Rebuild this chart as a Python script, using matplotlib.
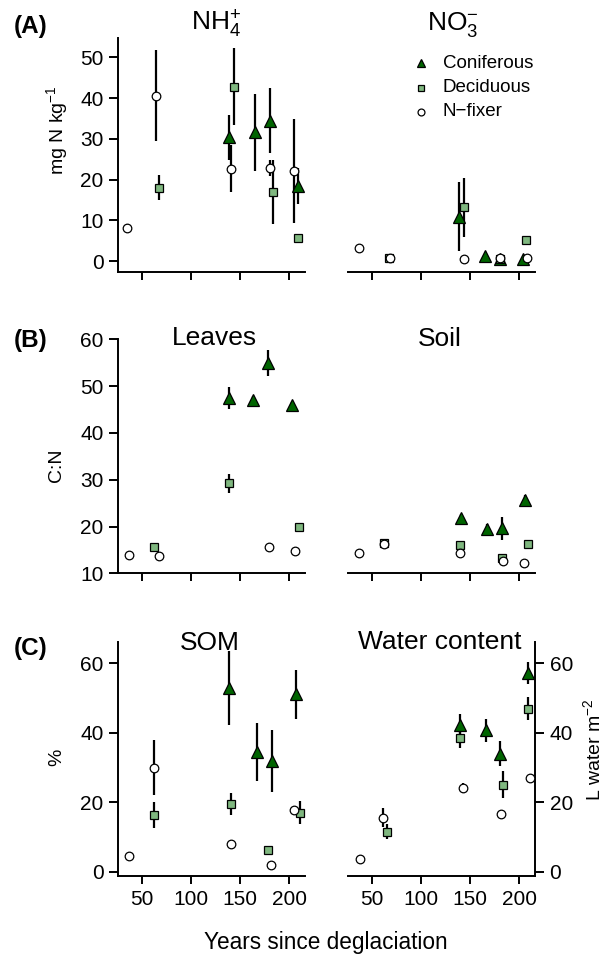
import matplotlib
matplotlib.use("Agg")
import matplotlib.pyplot as plt

plt.rcParams['font.family'] = ['Liberation Sans', 'DejaVu Sans']
plt.rcParams['mathtext.fontset'] = 'custom'
plt.rcParams['mathtext.rm'] = 'Liberation Sans'
plt.rcParams['mathtext.it'] = 'Liberation Sans'

groups = ["Coniferous", "Deciduous", "N\u2212fixer"]

# ---- Panel A: NH4+ (mg N kg-1)
nh4_x = {"Coniferous": [139, 165, 180, 209], "Deciduous": [67, 144, 183, 209], "N\u2212fixer": [35, 64.5, 141, 180, 205]}
nh4_y = {"Coniferous": [30.4, 31.6, 34.5, 18.4], "Deciduous": [18.0, 42.8, 16.9, 5.6], "N\u2212fixer": [8.2, 40.6, 22.7, 22.9, 22.1]}
nh4_e = {"Coniferous": [5.5, 9.5, 8.0, 4.4], "Deciduous": [3.1, 9.4, 7.9, 0.5], "N\u2212fixer": [1.0, 11.2, 5.7, 2.0, 12.8]}

# ---- Panel A: NO3-
no3_x = {"Coniferous": [139, 165.5, 180.5, 204], "Deciduous": [67, 143.5, 180, 207], "N\u2212fixer": [37, 68, 143.5, 180, 208]}
no3_y = {"Coniferous": [10.9, 1.2, 0.4, 0.4], "Deciduous": [0.8, 13.2, 0.5, 5.3], "N\u2212fixer": [3.3, 0.65, 0.4, 0.65, 0.65]}
no3_e = {"Coniferous": [8.4, 0.3, 0.3, 0.3], "Deciduous": [0.3, 7.2, 0.3, 0.7], "N\u2212fixer": [0.3, 0.3, 0.2, 0.3, 0.3]}

# ---- Panel B: Leaves C:N
leaf_x = {"Coniferous": [139, 163.5, 178.5, 203], "Deciduous": [62.5, 138.5, 210], "N\u2212fixer": [37, 67.5, 179, 206]}
leaf_y = {"Coniferous": [47.5, 47.0, 54.9, 45.9], "Deciduous": [15.6, 29.2, 20.0], "N\u2212fixer": [13.9, 13.8, 15.6, 14.8]}
leaf_e = {"Coniferous": [2.3, 0.8, 2.8, 0.8], "Deciduous": [0.4, 2.0, 0.4], "N\u2212fixer": [0.3, 0.3, 0.3, 0.3]}

# ---- Panel B: Soil C:N
soil_x = {"Coniferous": [141, 167.5, 182.5, 205.5], "Deciduous": [62, 139.5, 182, 209], "N\u2212fixer": [37, 62, 140, 183, 205]}
soil_y = {"Coniferous": [21.75, 19.5, 19.6, 25.7], "Deciduous": [16.4, 16.1, 13.2, 16.3], "N\u2212fixer": [14.3, 16.3, 14.3, 12.6, 12.3]}
soil_e = {"Coniferous": [1.0, 1.0, 2.4, 1.0], "Deciduous": [0.3, 0.3, 0.3, 0.3], "N\u2212fixer": [0.3, 0.3, 0.3, 0.3, 0.3]}

# ---- Panel C: SOM (%)
som_x = {"Coniferous": [138.5, 167, 182, 207], "Deciduous": [62, 141, 178, 210.5], "N\u2212fixer": [37, 62.5, 141, 181, 204.5]}
som_y = {"Coniferous": [52.8, 34.5, 31.9, 51.1], "Deciduous": [16.3, 19.5, 6.4, 17.0], "N\u2212fixer": [4.6, 30.0, 8.1, 2.1, 17.8]}
som_e = {"Coniferous": [10.6, 8.4, 9.0, 7.0], "Deciduous": [3.8, 3.1, 0.8, 3.3], "N\u2212fixer": [0.6, 8.0, 0.6, 0.5, 0.6]}

# ---- Panel C: Water content (L water m-2)
wat_x = {"Coniferous": [140, 166, 180.5, 209], "Deciduous": [65, 139.5, 183, 209], "N\u2212fixer": [38, 61.5, 142.5, 181.5, 211]}
wat_y = {"Coniferous": [42.3, 40.7, 34.0, 57.3], "Deciduous": [11.6, 38.4, 25.0, 46.9], "N\u2212fixer": [3.6, 15.6, 24.1, 16.5, 27.1]}
wat_e = {"Coniferous": [3.2, 3.3, 3.6, 3.2], "Deciduous": [2.2, 2.7, 3.9, 3.3], "N\u2212fixer": [0.4, 2.7, 1.5, 0.4, 0.5]}

x_ticks = [50, 100, 150, 200]

style = {
    "Coniferous": dict(marker='^', ms=8.0, mfc='#006400', mec='black', mew=0.9),
    "Deciduous": dict(marker='s', ms=5.2, mfc='#7fb77f', mec='black', mew=0.9),
    "N\u2212fixer": dict(marker='o', ms=6.2, mfc='white', mec='black', mew=0.9),
}

TICK_FS = 15
W, H = 608, 958
fig = plt.figure(figsize=(W / 100, H / 100), dpi=100)

def ax_at(x0, y0, x1, y1):
    return fig.add_axes([x0 / W, 1 - y1 / H, (x1 - x0) / W, (y1 - y0) / H])

LX = (118, 305)
RX = (348, 535)
rows = [(38.3, 271.7), (339.3, 573.3), (641.7, 876)]

def draw(ax, xs, ys, es):
    for g in groups:
        ax.errorbar(xs[g], ys[g], yerr=es[g], fmt='none', ecolor='black',
                    elinewidth=1.6, capsize=0, zorder=2)
    for g in groups:
        ax.plot(xs[g], ys[g], ls='none', zorder=3, **style[g])

def setup(ax, ylim, yticks, side, xlabels):
    ax.set_xlim(25.5, 216)
    ax.set_ylim(*ylim)
    for s in ['top', 'right', 'left', 'bottom']:
        ax.spines[s].set_visible(False)
    ax.spines['bottom'].set_visible(True)
    ax.spines['bottom'].set_linewidth(1.4)
    ax.set_xticks(x_ticks)
    ax.tick_params(axis='x', direction='out', length=6, width=1.4, labelsize=TICK_FS, pad=4,
                   labelbottom=xlabels)
    if side == 'left':
        ax.spines['left'].set_visible(True)
        ax.spines['left'].set_linewidth(1.4)
        ax.set_yticks(yticks)
        ax.tick_params(axis='y', direction='out', length=6.5, width=1.4, labelsize=TICK_FS, pad=4)
    elif side == 'right':
        ax.spines['right'].set_visible(True)
        ax.spines['right'].set_linewidth(1.4)
        ax.yaxis.tick_right()
        ax.set_yticks(yticks)
        ax.tick_params(axis='y', direction='out', length=6.5, width=1.4, labelsize=TICK_FS, pad=4)
    else:
        ax.set_yticks([])
    ax.patch.set_alpha(0)

# Row A
axA1 = ax_at(LX[0], rows[0][0], LX[1], rows[0][1])
draw(axA1, nh4_x, nh4_y, nh4_e)
setup(axA1, (-2.6, 54.7), [0, 10, 20, 30, 40, 50], 'left', False)
axA2 = ax_at(RX[0], rows[0][0], RX[1], rows[0][1])
draw(axA2, no3_x, no3_y, no3_e)
setup(axA2, (-2.6, 54.7), [], 'none', False)

# Row B
axB1 = ax_at(LX[0], rows[1][0], LX[1], rows[1][1])
draw(axB1, leaf_x, leaf_y, leaf_e)
setup(axB1, (10, 60), [10, 20, 30, 40, 50, 60], 'left', False)
axB2 = ax_at(RX[0], rows[1][0], RX[1], rows[1][1])
draw(axB2, soil_x, soil_y, soil_e)
setup(axB2, (10, 60), [], 'none', False)

# Row C
axC1 = ax_at(LX[0], rows[2][0], LX[1], rows[2][1])
draw(axC1, som_x, som_y, som_e)
setup(axC1, (-1.2, 66.2), [0, 20, 40, 60], 'left', True)
axC2 = ax_at(RX[0], rows[2][0], RX[1], rows[2][1])
draw(axC2, wat_x, wat_y, wat_e)
setup(axC2, (-1.2, 66.2), [0, 20, 40, 60], 'right', True)

def ftext(x, y, s, **kw):
    fig.text(x / W, 1 - y / H, s, **kw)

TFS = 19
ftext(216, 30, r"NH$_\mathregular{4}^\mathregular{+}$", fontsize=TFS, ha='center', va='baseline')
ftext(453, 30, r"NO$_\mathregular{3}^\mathregular{-}$", fontsize=TFS, ha='center', va='baseline')
ftext(214, 345, "Leaves", fontsize=TFS, ha='center', va='baseline')
ftext(440, 345.5, "Soil", fontsize=TFS, ha='center', va='baseline')
ftext(210, 650, "SOM", fontsize=TFS, ha='center', va='baseline')
ftext(440, 649, "Water content", fontsize=TFS, ha='center', va='baseline')

ftext(14, 33, "(A)", fontsize=17.5, fontweight='bold', ha='left', va='baseline')
ftext(14, 347, "(B)", fontsize=17.5, fontweight='bold', ha='left', va='baseline')
ftext(14, 655, "(C)", fontsize=17.5, fontweight='bold', ha='left', va='baseline')

YFS = 14
ftext(57, 130, r"mg N kg$^\mathregular{-1}$", fontsize=YFS, rotation=90, ha='center', va='center')
ftext(56, 465, "C:N", fontsize=YFS, rotation=90, ha='center', va='center')
ftext(57, 757, "%", fontsize=YFS, rotation=90, ha='center', va='center')
ftext(593, 750, r"L water m$^\mathregular{-2}$", fontsize=YFS, rotation=90, ha='center', va='center')
ftext(326, 943, "Years since deglaciation", fontsize=16.3, ha='center', va='center')

# legend
leg_y = [63, 88, 112]
for g, yy in zip(groups, leg_y):
    st = dict(style[g])
    st['ms'] = st['ms'] * 0.8
    fig.lines.append(plt.Line2D([421 / W], [1 - yy / H], transform=fig.transFigure, ls='none', **st))
    ftext(443, yy, g, fontsize=13.5, ha='left', va='center')

fig.savefig("out.png", dpi=100)
